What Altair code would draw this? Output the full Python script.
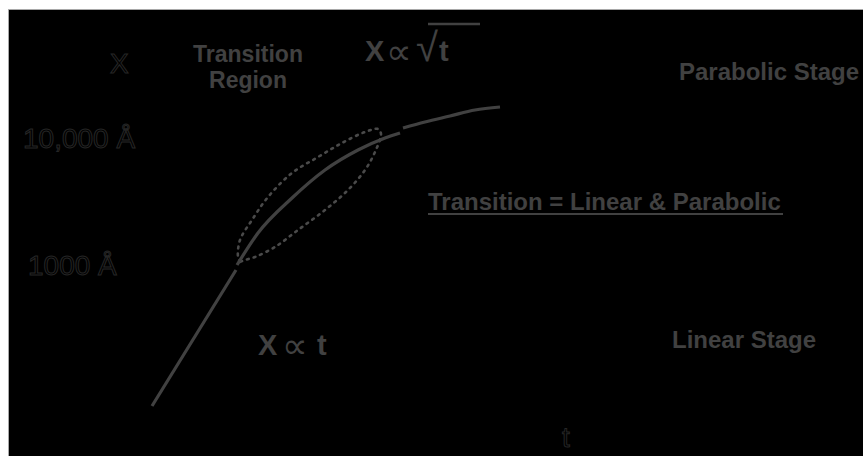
import altair as alt
import pandas as pd

# Oxide thickness X versus oxidation time t (linear units of the sketch)
linear_t = [144, 186, 228]
linear_x = [50, 118, 186]

transition_t = [229, 250, 284, 317, 350, 377, 392]
transition_x = [191, 223, 258, 286, 306, 318, 323]

parabolic_t = [395, 417, 442, 467, 492]
parabolic_x = [328, 334, 340, 346, 349]

# dotted envelope around the transition region (closed loop)
envelope_t = [232, 230, 232, 244, 260, 284, 310, 334, 357, 370, 373,
              367, 357, 340, 317, 290, 267, 247, 237, 232]
envelope_x = [194, 199, 216, 236, 259, 283, 299, 313, 324, 327, 322,
              304, 286, 266, 246, 226, 209, 199, 196, 194]

# text annotations
stage_labels = ["Parabolic Stage", "Transition = Linear & Parabolic", "Linear Stage"]
stage_t = [671, 420, 664]
stage_x = [376, 246, 108]

region_labels = ["Transition", "Region"]
region_t = [240, 240]
region_x = [394, 368]

axis_labels = ["X", "10,000 Å", "1000 Å", "t"]
axis_t = [102, 15, 20, 554]
axis_x = [383, 308, 181, 9]

# proportionality laws: X ∝ √t (parabolic) and X ∝ t (linear)
law_x_t = [357, 250]
law_x_x = [395, 101]
law_prop_t = [378, 274]
law_prop_x = [392, 98]
law_root_t = [408]
law_root_x = [395]
law_var_t = [431, 309]
law_var_x = [395, 101]

vinculum_t = [420]
vinculum_t2 = [472]
vinculum_x = [432]

underline_t = [420]
underline_t2 = [775]
underline_x = [242]

INK = "#414141"
OUTLINE = "#262626"
BOLD = "Liberation Sans"
NARROW = "'Liberation Sans Narrow', 'Liberation Sans', sans-serif"
SYMBOL = "DejaVu Sans"

xs = alt.Scale(domain=[0, 855], nice=False, zero=False)
ys = alt.Scale(domain=[0, 447], nice=False, zero=False)


def pos(tcol="t", xcol="X"):
    return dict(
        x=alt.X(f"{tcol}:Q", scale=xs, axis=None),
        y=alt.Y(f"{xcol}:Q", scale=ys, axis=None),
    )


curve = pd.DataFrame(
    {
        "segment": ["linear"] * len(linear_t)
        + ["transition"] * len(transition_t)
        + ["parabolic"] * len(parabolic_t),
        "t": linear_t + transition_t + parabolic_t,
        "X": linear_x + transition_x + parabolic_x,
        "i": list(range(len(linear_t)))
        + list(range(len(transition_t)))
        + list(range(len(parabolic_t))),
    }
)

envelope = pd.DataFrame(
    {"t": envelope_t, "X": envelope_x, "i": list(range(len(envelope_t)))}
)

solid = (
    alt.Chart(curve)
    .mark_line(color=INK, strokeWidth=3.2, interpolate="monotone")
    .encode(**pos(), detail="segment:N", order="i:Q")
)

dotted = (
    alt.Chart(envelope)
    .mark_line(
        color="#4a4a4a",
        strokeWidth=2.6,
        strokeDash=[1.8, 5.2],
        strokeCap="round",
        interpolate="catmull-rom",
    )
    .encode(**pos(), order="i:Q")
)

stages = (
    alt.Chart(pd.DataFrame({"t": stage_t, "X": stage_x, "label": stage_labels}))
    .mark_text(
        font=BOLD, fontWeight="bold", fontSize=24, color=INK,
        align="left", baseline="alphabetic",
    )
    .encode(**pos(), text="label:N")
)

region = (
    alt.Chart(pd.DataFrame({"t": region_t, "X": region_x, "label": region_labels}))
    .mark_text(
        font=BOLD, fontWeight="bold", fontSize=23, color=INK,
        align="center", baseline="alphabetic",
    )
    .encode(**pos(), text="label:N")
)

axis_text = (
    alt.Chart(pd.DataFrame({"t": axis_t, "X": axis_x, "label": axis_labels}))
    .mark_text(
        font=NARROW, fontSize=28, fill="black", stroke=OUTLINE, strokeWidth=1,
        align="left", baseline="alphabetic",
    )
    .encode(**pos(), text="label:N")
)

law_x = (
    alt.Chart(pd.DataFrame({"t": law_x_t, "X": law_x_x, "label": ["X", "X"]}))
    .mark_text(
        font=BOLD, fontWeight="bold", fontSize=29, color=INK,
        align="left", baseline="alphabetic",
    )
    .encode(**pos(), text="label:N")
)

law_prop = (
    alt.Chart(pd.DataFrame({"t": law_prop_t, "X": law_prop_x, "label": ["∝", "∝"]}))
    .mark_text(
        font=SYMBOL, fontSize=36, color=INK, align="left", baseline="alphabetic",
    )
    .encode(**pos(), text="label:N")
)

law_root = (
    alt.Chart(pd.DataFrame({"t": law_root_t, "X": law_root_x, "label": ["√"]}))
    .mark_text(
        font="Liberation Sans", fontSize=40, color=INK,
        align="left", baseline="alphabetic",
    )
    .encode(**pos(), text="label:N")
)

law_var = (
    alt.Chart(pd.DataFrame({"t": law_var_t, "X": law_var_x, "label": ["t", "t"]}))
    .mark_text(
        font=BOLD, fontWeight="bold", fontSize=29, color=INK,
        align="left", baseline="alphabetic",
    )
    .encode(**pos(), text="label:N")
)

vinculum = (
    alt.Chart(pd.DataFrame({"t": vinculum_t, "t2": vinculum_t2, "X": vinculum_x}))
    .mark_rule(color=INK, strokeWidth=2.5)
    .encode(**pos(), x2="t2:Q")
)

underline = (
    alt.Chart(pd.DataFrame({"t": underline_t, "t2": underline_t2, "X": underline_x}))
    .mark_rule(color=INK, strokeWidth=2)
    .encode(**pos(), x2="t2:Q")
)

chart = (
    alt.layer(
        dotted, solid, stages, region, axis_text,
        law_x, law_prop, law_root, law_var, vinculum, underline,
    )
    .properties(
        width=855,
        height=447,
        autosize=alt.AutoSizeParams(type="none"),
        padding={"left": 8, "top": 9, "right": 0, "bottom": 0},
        background="white",
    )
    .configure_view(fill="black", stroke="#a8a8a8", strokeWidth=1)
)

chart.save("out.html", embed_options={"renderer": "svg", "actions": False})
